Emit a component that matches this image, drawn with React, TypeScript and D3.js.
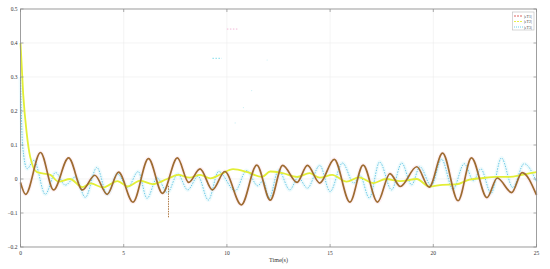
import React from 'react';
import * as d3 from 'd3';

// series 1 |eT1| (brown, read at extrema)
const timeS1 = [0, 0.25, 0.97, 1.6, 2.33, 3.0, 3.6, 4.2, 4.75, 5.45, 6.2, 6.88, 7.6, 8.15, 8.7, 9.3, 9.9, 10.7, 11.45, 12.1, 12.7, 13.4, 13.9, 14.5, 15.2, 15.96, 16.6, 17.3, 17.9, 18.4, 19.2, 19.8, 20.45, 21.2, 21.85, 22.6, 23.1, 23.8, 24.3, 25];
const eT1 = [-0.01, -0.045, 0.078, -0.032, 0.062, -0.032, 0.011, -0.045, 0.02, -0.068, 0.06, -0.042, 0.062, -0.01, 0.03, -0.032, 0.022, -0.076, 0.041, -0.062, 0.04, -0.01, 0.04, -0.012, 0.058, -0.068, 0.041, -0.068, 0.016, -0.022, 0.036, -0.024, 0.076, -0.064, 0.062, -0.055, 0.003, -0.04, 0.019, -0.047];

// spike on series 1 near t = 7.2
const spikeT = [7.17, 7.17];
const spikeV = [-0.02, -0.115];

// series 2 |eT2| (yellow)
const timeS2 = [0, 0.13, 0.3, 0.47, 0.8, 1.45, 1.85, 2.4, 3.0, 3.4, 4.0, 4.7, 5.2, 5.8, 6.4, 7.1, 7.65, 8.2, 8.7, 9.2, 9.7, 10.3, 11.0, 11.7, 12.1, 12.7, 13.4, 14.0, 14.5, 15.1, 15.8, 16.4, 17.1, 17.7, 18.4, 19.2, 19.8, 20.45, 21.1, 21.75, 22.4, 23.05, 23.7, 24.3, 25];
const eT2 = [0.4, 0.25, 0.135, 0.065, 0.02, 0.012, -0.008, 0.0, -0.024, -0.013, -0.025, -0.006, -0.022, -0.005, -0.015, 0.0, 0.012, 0.004, 0.012, 0.002, 0.014, 0.029, 0.02, 0.006, 0.022, 0.017, 0.006, 0.017, 0.004, 0.012, -0.008, 0.005, -0.012, 0.0, -0.006, 0.0, -0.022, -0.017, -0.016, -0.002, 0.003, 0.006, 0.006, 0.012, 0.02];

// series 3 |eT3| (cyan dotted)
const timeS3 = [0, 0.1, 0.32, 0.65, 1.2, 1.7, 2.17, 2.66, 3.14, 3.7, 4.2, 4.7, 5.2, 5.7, 6.13, 6.62, 7.12, 7.62, 8.1, 8.6, 9.1, 9.6, 10.4, 10.95, 11.5, 11.75, 12.05, 12.5, 13.05, 13.45, 13.9, 14.5, 15.0, 15.6, 16.15, 16.45, 16.9, 17.4, 17.98, 18.47, 18.95, 19.35, 19.9, 20.4, 20.95, 21.5, 21.95, 22.3, 22.8, 23.3, 23.85, 24.4, 25];
const eT3 = [0.3, 0.1, 0.03, 0.055, -0.045, 0.019, -0.018, 0.006, -0.054, 0.034, -0.045, 0.015, -0.025, 0.022, -0.057, 0.003, -0.04, 0.015, -0.032, 0.008, -0.062, 0.022, -0.035, 0.025, -0.02, -0.005, -0.056, 0.026, -0.032, 0.005, -0.027, 0.04, -0.037, 0.047, -0.012, 0.01, -0.056, 0.05, -0.032, 0.047, -0.017, 0.036, -0.02, 0.058, -0.03, 0.045, -0.005, 0.03, -0.042, 0.062, -0.025, 0.045, -0.008];

// stray dotted pieces high up
const strayCyanT = [9.3, 9.75];
const strayCyanV = [0.355, 0.355];
const strayPinkT = [10.0, 10.55];
const strayPinkV = [0.441, 0.441];
const faintDotT = [10.4, 10.8, 11.2, 11.95];
const faintDotV = [0.165, 0.21, 0.26, 0.35];

const xTicks = [0, 5, 10, 15, 20, 25];
const yTicks = [-0.2, -0.1, 0, 0.1, 0.2, 0.3, 0.4, 0.5];
const legendLabels = ['|eT1|', '|eT2|', '|eT3|'];

export default function App() {
  const width = 550;
  const height = 269;
  const left = 20.5, right = 536.5, top = 9, bottom = 247;

  const x = d3.scaleLinear().domain([0, 25]).range([left, right]);
  const y = d3.scaleLinear().domain([-0.2, 0.5]).range([bottom, top]);

  const mk = (ts: number[], vs: number[]) => ts.map((t, i) => [t, vs[i]] as [number, number]);
  const line = d3.line<[number, number]>().x(d => x(d[0])).y(d => y(d[1])).curve(d3.curveMonotoneX);
  const straight = d3.line<[number, number]>().x(d => x(d[0])).y(d => y(d[1]));

  const p1 = line(mk(timeS1, eT1)) || '';
  const p2 = line(mk(timeS2, eT2)) || '';
  const p3 = line(mk(timeS3, eT3)) || '';

  const font = '"Liberation Serif", "Times New Roman", serif';
  const axisColor = '#8a8a8a';

  const legendColors = ['#d9534f', '#e4ee3a', '#5cc8e6'];
  const legendDash = ['2,1', '2,1', '1,1'];

  return (
    <svg width={width} height={height} style={{ position: 'absolute', left: 0, top: 0, background: '#fff' }}>
      <rect x={left} y={top} width={right - left} height={bottom - top} fill="#fff" />
      {/* grid */}
      {xTicks.map(t => (
        <line key={'gx' + t} x1={x(t)} x2={x(t)} y1={top} y2={bottom} stroke="#ececec" strokeWidth={0.6} />
      ))}
      {yTicks.map(t => (
        <line key={'gy' + t} x1={left} x2={right} y1={y(t)} y2={y(t)} stroke="#ececec" strokeWidth={0.6} />
      ))}

      {/* halos */}
      <path d={p1} fill="none" stroke="#f9d3e0" strokeWidth={4} opacity={0.35} />
      <path d={p3} fill="none" stroke="#d2f3fa" strokeWidth={4} opacity={0.35} />

      {/* series */}
      <path d={p3} fill="none" stroke="#6cc9e6" strokeWidth={1} strokeDasharray="1.5,1.2" />
      <path d={p2} fill="none" stroke="#e2ee36" strokeWidth={1.8} />
      <path d={p1} fill="none" stroke="#9d6b30" strokeWidth={1.7} />
      <path d={straight(mk(spikeT, spikeV)) || ''} fill="none" stroke="#b07a44" strokeWidth={1} strokeDasharray="1.5,1" />

      <path d={straight(mk(strayCyanT, strayCyanV)) || ''} fill="none" stroke="#7fdcea" strokeWidth={1} strokeDasharray="1.5,1.5" />
      <path d={straight(mk(strayPinkT, strayPinkV)) || ''} fill="none" stroke="#f0b8d8" strokeWidth={1} strokeDasharray="1.5,1.5" />
      {faintDotT.map((t, i) => (
        <circle key={'fd' + i} cx={x(t)} cy={y(faintDotV[i])} r={0.6} fill="#c9eef5" />
      ))}

      {/* box */}
      <rect x={left} y={top} width={right - left} height={bottom - top} fill="none" stroke={axisColor} strokeWidth={0.8} />
      {xTicks.map(t => (
        <g key={'tx' + t}>
          <line x1={x(t)} x2={x(t)} y1={bottom} y2={bottom - 3} stroke={axisColor} strokeWidth={0.7} />
          <line x1={x(t)} x2={x(t)} y1={top} y2={top + 3} stroke={axisColor} strokeWidth={0.7} />
          <text x={x(t)} y={255} fontSize={5.5} fontFamily={font} textAnchor="middle" fill="#333">{t}</text>
        </g>
      ))}
      {yTicks.map(t => (
        <g key={'ty' + t}>
          <line x1={left} x2={left + 3} y1={y(t)} y2={y(t)} stroke={axisColor} strokeWidth={0.7} />
          <line x1={right} x2={right - 3} y1={y(t)} y2={y(t)} stroke={axisColor} strokeWidth={0.7} />
          <text x={17.5} y={y(t) + 1.8} fontSize={5.5} fontFamily={font} textAnchor="end" fill="#333">
            {t === 0 ? '0' : d3.format('.1f')(t)}
          </text>
        </g>
      ))}
      <text x={(left + right) / 2} y={262} fontSize={6} fontFamily={font} textAnchor="middle" fill="#333">Time(s)</text>

      {/* legend */}
      <rect x={512.5} y={12} width={21.5} height={18} fill="#fff" stroke="#bbb" strokeWidth={0.6} />
      {legendLabels.map((lab, i) => (
        <g key={lab}>
          <line x1={514} x2={523} y1={16 + i * 5.5} y2={16 + i * 5.5} stroke={legendColors[i]} strokeWidth={0.9} strokeDasharray={legendDash[i]} />
          <text x={524} y={17.5 + i * 5.5} fontSize={4} fontFamily={font} fill="#444">{lab}</text>
        </g>
      ))}
    </svg>
  );
}
